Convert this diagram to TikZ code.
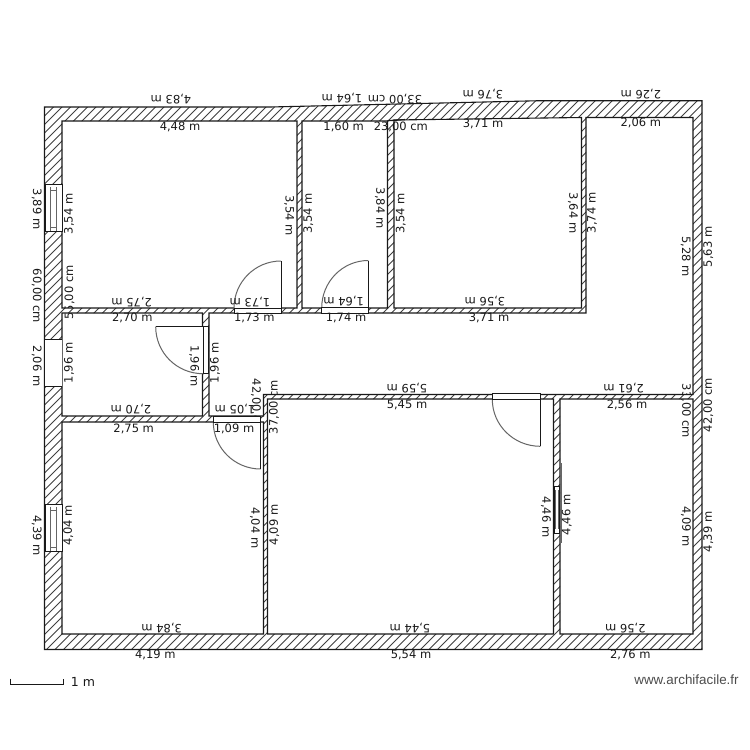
\documentclass[tikz,border=0pt]{standalone}
\usepackage{fontspec}
\setmainfont{DejaVu Sans}
\newfontfamily\wmfont{Liberation Sans}
\usetikzlibrary{calc}
\definecolor{ink}{gray}{0.1}
\definecolor{hatchc}{gray}{0.25}
\definecolor{arcc}{gray}{0.4}
\tikzset{
  lab/.style={inner sep=0pt,text=ink,font=\fontsize{11.5}{13}\selectfont},
  wline/.style={draw=ink,line width=1.1pt},
  framebox/.style={fill=white,draw=ink,line width=0.9pt},
  leaf/.style={draw=ink,line width=0.9pt},
  arcline/.style={draw=arcc,line width=1pt},
  glass/.style={draw=arcc,line width=0.8pt}
}
\newcommand\lab[4]{\node[lab,rotate=#3] at (#1,#2) {#4};}
% sector: centre, start point, end point
\newcommand\swing[3]{
  \fill[white] (#1) -- (#2) .. controls ($(#2)+.5523*(#3)-.5523*(#1)$) and ($(#3)+.5523*(#2)-.5523*(#1)$) .. (#3) -- cycle;
  \draw[arcline] (#2) .. controls ($(#2)+.5523*(#3)-.5523*(#1)$) and ($(#3)+.5523*(#2)-.5523*(#1)$) .. (#3);
}
\newcommand\planpath{
  (44.5,107)--(270,107)--(540,100.7)--(702,100.7)--(702,649.5)--(44.5,649.5)--cycle
  (62,121)--(297,121)--(297,308)--(62,308)--cycle
  (302,121)--(387.5,121)--(387.5,308)--(302,308)--cycle
  (394,120)--(581.5,117.5)--(581.5,308)--(394,308)--cycle
  (586,117.5)--(693,117.5)--(693,394.5)--(263.5,394.5)--(263.5,416)--(209,416)--(209,313)--(586,313)--cycle
  (62,313)--(202.5,313)--(202.5,416)--(62,416)--cycle
  (62,422)--(263.5,422)--(263.5,634)--(62,634)--cycle
  (267.5,399)--(553.5,399)--(553.5,634)--(267.5,634)--cycle
  (560,399)--(693,399)--(693,634)--(560,634)--cycle
}
\begin{document}
\begin{tikzpicture}[x=1pt,y=-1pt]
\useasboundingbox (0,0) rectangle (750,750);
\fill[white] (0,0) rectangle (750,750);
% labels lying partly under the walls and the door swing
\lab{69.5}{292.5}{90}{55,00 cm}
\lab{686}{411}{-90}{33,00 cm}
\lab{256}{406}{-90}{42,00 cm}
\lab{274}{407}{90}{37,00 cm}
% walls
\fill[white,even odd rule] \planpath;
\begin{scope}
  \pgfseteorule
  \clip \planpath;
  \foreach \i in {0,...,150}{
    \draw[hatchc,line width=0.9pt] ({40+\i*8.5},95) -- ({40+\i*8.5-560},655);
  }
\end{scope}
\draw[wline,even odd rule] \planpath;
\draw[ink,line width=1.3pt] (387.5,120.7) -- (405,119.6);
% windows
\draw[framebox] (45.5,184.5) rectangle (62,231.5);
\draw[glass] (50.7,187) -- (50.7,231) (56,187) -- (56,231) (50.7,190) -- (56,190) (50.7,227) -- (56,227);
\fill[white] (45,339) rectangle (61.5,386);
\draw[ink,line width=0.9pt] (45,339) -- (62,339) (45,386) -- (62,386);
\draw[framebox] (45.5,504) rectangle (62,551.5);
\draw[glass] (50.7,506.5) -- (50.7,551) (56,506.5) -- (56,551) (50.7,510) -- (56,510) (50.7,547) -- (56,547);
\draw[framebox] (554.3,486) rectangle (559.3,533);
\draw[glass] (555.8,490) -- (555.8,529) (558,490) -- (558,529);
\draw[arcc,line width=1pt] (561,463) -- (561,543);
% doors
\coordinate (d1c) at (281,308); \coordinate (d1a) at (234,308); \coordinate (d1b) at (281,261);
\coordinate (d2c) at (368.3,308); \coordinate (d2a) at (321.7,308); \coordinate (d2b) at (368.3,260.5);
\coordinate (d3c) at (203,326.7); \coordinate (d3a) at (155.7,326.7); \coordinate (d3b) at (203,373.7);
\coordinate (d4c) at (260.7,422); \coordinate (d4a) at (213.3,422); \coordinate (d4b) at (260.7,469);
\coordinate (d5c) at (540.3,399.3); \coordinate (d5a) at (492.3,399.3); \coordinate (d5b) at (540.3,446.3);
\swing{d1c}{d1a}{d1b}
\swing{d2c}{d2a}{d2b}
\swing{d3c}{d3a}{d3b}
\swing{d4c}{d4a}{d4b}
\swing{d5c}{d5a}{d5b}
\draw[framebox] (234,308) rectangle (281,313.5);
\draw[leaf] (d1b) -- (d1c);
\draw[framebox] (321.7,307.5) rectangle (368.3,313);
\draw[leaf] (d2b) -- (d2c);
\draw[framebox] (203,326.7) rectangle (208,373.7);
\draw[leaf] (d3a) -- (d3c);
\draw[framebox] (213.3,416) rectangle (260.7,422);
\draw[leaf] (d4b) -- (d4c);
\draw[framebox] (492.3,393.5) rectangle (540.3,399.3);
\draw[leaf] (d5b) -- (d5c);
% labels
\lab{171}{99.5}{180}{4,83 m}
\lab{180}{126.7}{0}{4,48 m}
\lab{342}{98}{180}{1,64 m}
\lab{395}{99.3}{180}{33,00 cm}
\lab{343.7}{127}{0}{1,60 m}
\lab{400.8}{127}{0}{23,00 cm}
\lab{483}{124.3}{0}{3,71 m}
\lab{483}{94.3}{180}{3,76 m}
\lab{640.8}{94}{180}{2,26 m}
\lab{640.8}{122.7}{0}{2,06 m}
\lab{36.7}{209}{-90}{3,89 m}
\lab{69}{214}{90}{3,54 m}
\lab{36.7}{296}{-90}{60,00 cm}
\lab{36.7}{366}{-90}{2,06 m}
\lab{69}{363}{90}{1,96 m}
\lab{131.7}{301.7}{180}{2,75 m}
\lab{132.4}{318.3}{0}{2,70 m}
\lab{250}{301.7}{180}{1,73 m}
\lab{254.4}{318.3}{0}{1,73 m}
\lab{346}{318.3}{0}{1,74 m}
\lab{343.7}{301}{180}{1,64 m}
\lab{485}{301}{180}{3,56 m}
\lab{489}{318.3}{0}{3,71 m}
\lab{289.3}{215.7}{-90}{3,54 m}
\lab{308.3}{213.7}{90}{3,54 m}
\lab{380}{208}{-90}{3,84 m}
\lab{400.7}{213.7}{90}{3,54 m}
\lab{573}{213}{-90}{3,64 m}
\lab{592}{213}{90}{3,74 m}
\lab{685.7}{256.7}{-90}{5,28 m}
\lab{708.3}{247}{90}{5,63 m}
\lab{194.3}{366}{-90}{1,96 m}
\lab{215}{363}{90}{1,96 m}
\lab{131}{408.7}{180}{2,70 m}
\lab{133.7}{428.7}{0}{2,75 m}
\lab{235}{408.7}{180}{1,05 m}
\lab{234}{428.7}{0}{1,09 m}
\lab{407}{388}{180}{5,59 m}
\lab{407}{405}{0}{5,45 m}
\lab{623.7}{387.7}{180}{2,61 m}
\lab{627}{404.7}{0}{2,56 m}
\lab{708.3}{405}{90}{42,00 cm}
\lab{161.7}{627.7}{180}{3,84 m}
\lab{155.3}{655}{0}{4,19 m}
\lab{410}{627.7}{180}{5,44 m}
\lab{411}{655}{0}{5,54 m}
\lab{625.3}{628}{180}{2,56 m}
\lab{630.3}{655}{0}{2,76 m}
\lab{36.7}{535.3}{-90}{4,39 m}
\lab{68.3}{525.7}{90}{4,04 m}
\lab{255}{528}{-90}{4,04 m}
\lab{274.3}{525}{90}{4,09 m}
\lab{546}{517}{-90}{4,46 m}
\lab{566.7}{515}{90}{4,46 m}
\lab{686}{526.7}{-90}{4,09 m}
\lab{708.3}{532}{90}{4,39 m}
% scale and mark
\draw[ink,line width=0.9pt] (10.7,678.7) -- (10.7,684) -- (63.3,684) -- (63.3,678.7);
\node[inner sep=0pt,text=ink,font=\fontsize{12.5}{14}\selectfont] at (83,681.5) {1 m};
\node[inner sep=0pt,text=black!70,font=\wmfont\fontsize{13.4}{15}\selectfont] at (686.5,679.3) {www.archifacile.fr};
\end{tikzpicture}
\end{document}
